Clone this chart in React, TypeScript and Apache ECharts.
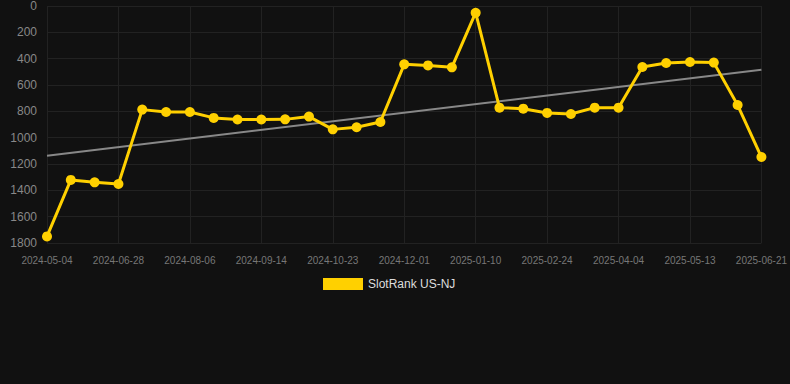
import React, { useEffect, useRef } from "react";
import * as echarts from "echarts";

const dates = [
  "2024-05-04", "2024-05-22", "2024-06-09", "2024-06-28", "2024-07-11", "2024-07-24",
  "2024-08-06", "2024-08-19", "2024-09-01", "2024-09-14", "2024-09-27", "2024-10-10",
  "2024-10-23", "2024-11-05", "2024-11-18", "2024-12-01", "2024-12-14", "2024-12-27",
  "2025-01-10", "2025-01-25", "2025-02-09", "2025-02-24", "2025-03-09", "2025-03-22",
  "2025-04-04", "2025-04-17", "2025-04-30", "2025-05-13", "2025-05-26", "2025-06-08",
  "2025-06-21",
];

const ranks = [
  1750, 1321, 1339, 1352, 787, 805, 805, 850, 862, 862, 861, 840, 937, 921, 881, 443,
  451, 466, 51, 772, 780, 812, 820, 772, 772, 463, 433, 425, 430, 752, 1147,
];

const trendStart = 1137;
const trendEnd = 484;

const seriesName = "SlotRank US-NJ";

export default function App() {
  const ref = useRef<HTMLDivElement>(null);
  useEffect(() => {
    if (!ref.current) return;
    const chart = echarts.init(ref.current, undefined, { renderer: "svg" });
    const n = dates.length;
    const trend = dates.map((d, i) => (i === 0 ? trendStart : i === n - 1 ? trendEnd : null));
    chart.setOption({
      animation: false,
      backgroundColor: "#111111",
      grid: { left: 47, right: 28, top: 6, bottom: 141, containLabel: false },
      legend: {
        top: 273,
        left: 318,
        data: [{ name: seriesName, icon: "rect" }],
        itemWidth: 40,
        itemHeight: 12,
        itemGap: 6,
        textStyle: { color: "#dddddd", fontSize: 12, fontFamily: "Arial, Liberation Sans, sans-serif" },
      },
      xAxis: {
        type: "category",
        data: dates,
        boundaryGap: false,
        axisLine: { show: false },
        axisTick: { show: false },
        axisLabel: {
          interval: 2,
          color: "#777777",
          fontSize: 10,
          margin: 12,
          fontFamily: "Arial, Liberation Sans, sans-serif",
        },
        splitLine: { show: true, interval: 2, lineStyle: { color: "#222222", width: 1 } },
      },
      yAxis: {
        type: "value",
        inverse: true,
        min: 0,
        max: 1800,
        interval: 200,
        axisLine: { show: false },
        axisTick: { show: false },
        axisLabel: {
          color: "#888888",
          fontSize: 12,
          margin: 10,
          formatter: (v: number) => String(v),
          fontFamily: "Arial, Liberation Sans, sans-serif",
        },
        splitLine: { lineStyle: { color: "#222222", width: 1 } },
      },
      series: [
        {
          name: "trend",
          type: "line",
          data: trend,
          connectNulls: true,
          symbol: "none",
          lineStyle: { color: "#888888", width: 2 },
          silent: true,
          z: 1,
        },
        {
          name: seriesName,
          type: "line",
          data: ranks,
          symbol: "circle",
          symbolSize: 10,
          itemStyle: { color: "#FFD000" },
          lineStyle: { color: "#FFD000", width: 3 },
          z: 2,
        },
      ],
    });
    return () => chart.dispose();
  }, []);
  return (
    <div
      ref={ref}
      style={{ position: "fixed", left: 0, top: 0, width: 790, height: 384 }}
    />
  );
}
